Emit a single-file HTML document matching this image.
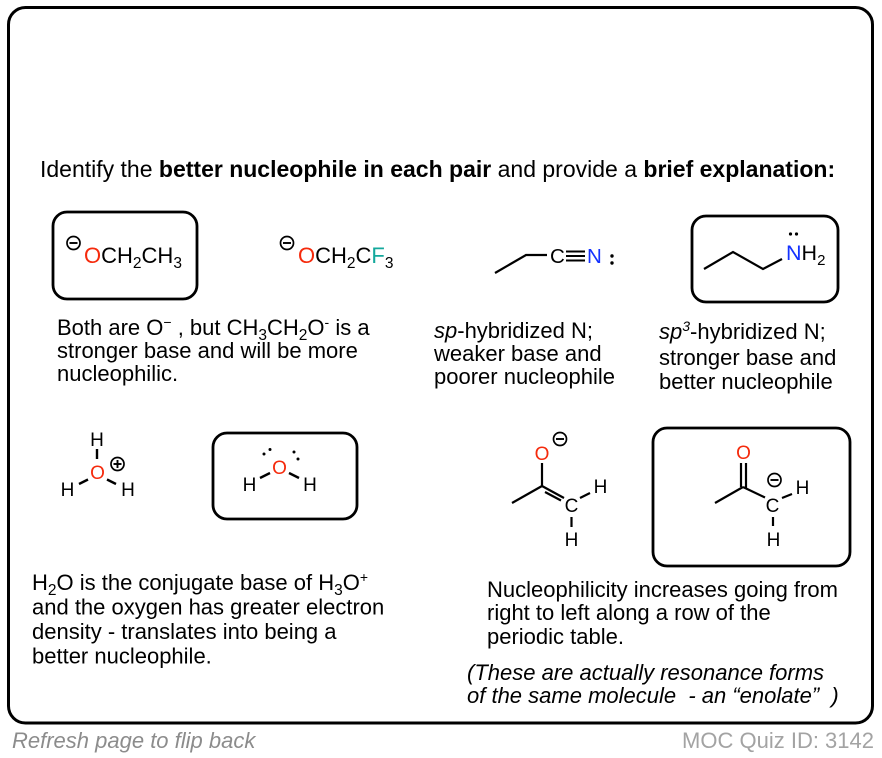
<!DOCTYPE html>
<html><head><meta charset="utf-8"><style>
html,body{margin:0;padding:0;background:#fff;width:882px;height:758px;overflow:hidden}
svg{display:block}
text{font-family:"Liberation Sans",Arial,Helvetica,sans-serif;fill:#000}
</style></head><body>
<svg width="882" height="758" viewBox="0 0 882 758" xmlns="http://www.w3.org/2000/svg">
<rect x="8.5" y="7.5" width="864" height="715.5" rx="17" fill="none" stroke="#000" stroke-width="3"/>

<text x="40" y="177" font-size="23">Identify the <tspan font-weight="bold">better nucleophile in each pair</tspan> and provide a <tspan font-weight="bold">brief explanation:</tspan></text>

<!-- boxes -->
<g fill="none" stroke="#000" stroke-width="2.8">
<rect x="53" y="212" width="144" height="87" rx="14"/>
<rect x="692" y="216" width="146" height="86" rx="14"/>
<rect x="213" y="433" width="144" height="86" rx="14"/>
<rect x="653" y="428" width="197" height="138" rx="14"/>
</g>

<!-- ethoxide -->
<circle cx="73.5" cy="243" r="6.5" fill="none" stroke="#000" stroke-width="1.7"/>
<line x1="69.5" y1="243" x2="77.5" y2="243" stroke="#000" stroke-width="1.9"/>
<text x="84" y="263" font-size="22"><tspan style="fill:#f52a0c">O</tspan>CH<tspan font-size="15.5" dy="5">2</tspan><tspan dy="-5">CH</tspan><tspan font-size="15.5" dy="5">3</tspan></text>

<!-- trifluoroethoxide -->
<circle cx="287" cy="243" r="6.5" fill="none" stroke="#000" stroke-width="1.7"/>
<line x1="283" y1="243" x2="291" y2="243" stroke="#000" stroke-width="1.9"/>
<text x="298" y="263" font-size="22"><tspan style="fill:#f52a0c">O</tspan>CH<tspan font-size="15.5" dy="5">2</tspan><tspan dy="-5">C</tspan><tspan style="fill:#14a89c">F</tspan><tspan font-size="15.5" dy="5">3</tspan></text>

<!-- nitrile -->
<polyline points="495,273 526,255 547,255" fill="none" stroke="#000" stroke-width="2.2"/>
<text x="550" y="263" font-size="20.5">C</text>
<g stroke="#000" stroke-width="2">
<line x1="566" y1="251.5" x2="585" y2="251.5"/>
<line x1="566" y1="256" x2="585" y2="256"/>
<line x1="566" y1="260.5" x2="585" y2="260.5"/>
</g>
<text x="587" y="263" font-size="20.5" style="fill:#1432ff">N</text>
<circle cx="612" cy="256" r="1.7" fill="#000"/>
<circle cx="612" cy="263" r="1.7" fill="#000"/>

<!-- propylamine -->
<polyline points="704,269 733,252 763,269 782,259" fill="none" stroke="#000" stroke-width="2.2"/>
<text x="786" y="260" font-size="21.5"><tspan style="fill:#1432ff">N</tspan>H<tspan font-size="15" dy="5">2</tspan></text>
<circle cx="790.5" cy="234" r="1.6" fill="#000"/>
<circle cx="796.5" cy="234" r="1.6" fill="#000"/>

<!-- row 1 explanations -->
<g font-size="22">
<text x="57" y="335">Both are O<tspan font-size="14" dy="-8">−</tspan><tspan dy="8"> , but CH</tspan><tspan font-size="15.5" dy="5">3</tspan><tspan dy="-5">CH</tspan><tspan font-size="15.5" dy="5">2</tspan><tspan dy="-5">O</tspan><tspan font-size="14" dy="-8">-</tspan><tspan dy="8"> is a</tspan></text>
<text x="57" y="358">stronger base and will be more</text>
<text x="57" y="381">nucleophilic.</text>

<text x="434" y="338"><tspan font-style="italic">sp</tspan>-hybridized N;</text>
<text x="434" y="361">weaker base and</text>
<text x="434" y="384">poorer nucleophile</text>

<text x="659" y="339"><tspan font-style="italic">sp</tspan><tspan font-style="italic" font-size="14" dy="-8">3</tspan><tspan dy="8">-hybridized N;</tspan></text>
<text x="659" y="365">stronger base and</text>
<text x="659" y="389">better nucleophile</text>
</g>

<!-- H3O+ -->
<g font-size="19" text-anchor="middle">
<text x="97" y="446">H</text>
<text x="97.5" y="479" style="fill:#f52a0c">O</text>
<text x="67.5" y="496">H</text>
<text x="128" y="496">H</text>
</g>
<g stroke="#000" stroke-width="2.4">
<line x1="97" y1="449" x2="97" y2="459"/>
<line x1="79" y1="484" x2="88" y2="479.5"/>
<line x1="107" y1="479.5" x2="116" y2="484"/>
</g>
<circle cx="117.5" cy="464" r="6.5" fill="none" stroke="#000" stroke-width="1.7"/>
<line x1="113.5" y1="464" x2="121.5" y2="464" stroke="#000" stroke-width="1.9"/>
<line x1="117.5" y1="460" x2="117.5" y2="468" stroke="#000" stroke-width="1.9"/>

<!-- H2O -->
<g font-size="19" text-anchor="middle">
<text x="279.5" y="474" style="fill:#f52a0c">O</text>
<text x="249.5" y="491">H</text>
<text x="310" y="491">H</text>
</g>
<g stroke="#000" stroke-width="2.4">
<line x1="260" y1="478" x2="270" y2="473"/>
<line x1="289" y1="473" x2="299" y2="478"/>
</g>
<g fill="#000">
<circle cx="264" cy="454" r="1.5"/><circle cx="270" cy="449.5" r="1.5"/>
<circle cx="294" cy="452" r="1.5"/><circle cx="298" cy="459" r="1.5"/>
</g>

<!-- enolate (O-) -->
<g font-size="19" text-anchor="middle">
<text x="542" y="460" style="fill:#f52a0c">O</text>
<text x="571.5" y="512">C</text>
<text x="600.5" y="493">H</text>
<text x="571.5" y="546">H</text>
</g>
<circle cx="560" cy="439" r="6.5" fill="none" stroke="#000" stroke-width="1.7"/>
<line x1="556" y1="439" x2="564" y2="439" stroke="#000" stroke-width="1.9"/>
<g stroke="#000" stroke-width="2.2" fill="none">
<line x1="542" y1="463" x2="542" y2="486"/>
<line x1="512" y1="503" x2="542" y2="486"/>
<line x1="542" y1="486" x2="564" y2="498"/>
<line x1="545" y1="492" x2="561" y2="500.5"/>
<line x1="580" y1="498" x2="590" y2="493"/>
<line x1="571.5" y1="517" x2="571.5" y2="527"/>
</g>

<!-- ketone carbanion -->
<g font-size="19" text-anchor="middle">
<text x="743.5" y="459" style="fill:#f52a0c">O</text>
<text x="772.5" y="512">C</text>
<text x="802.5" y="494">H</text>
<text x="773.5" y="546">H</text>
</g>
<circle cx="774.5" cy="480" r="6.5" fill="none" stroke="#000" stroke-width="1.7"/>
<line x1="770.5" y1="480" x2="778.5" y2="480" stroke="#000" stroke-width="1.9"/>
<g stroke="#000" stroke-width="2.2" fill="none">
<line x1="741" y1="463" x2="741" y2="487"/>
<line x1="746" y1="463" x2="746" y2="489"/>
<line x1="715" y1="503" x2="743" y2="487"/>
<line x1="743" y1="487" x2="765" y2="497.5"/>
<line x1="782" y1="498" x2="792" y2="494"/>
<line x1="773" y1="517" x2="773" y2="526"/>
</g>

<!-- row 2 explanations -->
<g font-size="22">
<text x="32" y="590">H<tspan font-size="15.5" dy="5">2</tspan><tspan dy="-5">O is the conjugate base of H</tspan><tspan font-size="15.5" dy="5">3</tspan><tspan dy="-5">O</tspan><tspan font-size="14" dy="-8">+</tspan></text>
<text x="32" y="614.5">and the oxygen has greater electron</text>
<text x="32" y="639">density - translates into being a</text>
<text x="32" y="663.5">better nucleophile.</text>

<text x="487" y="597">Nucleophilicity increases going from</text>
<text x="487" y="620">right to left along a row of the</text>
<text x="487" y="644">periodic table.</text>

<text x="467" y="680" font-style="italic">(These are actually resonance forms</text>
<text x="467" y="703" font-style="italic" xml:space="preserve">of the same molecule  - an “enolate”  )</text>
</g>

<!-- footer -->
<text x="12" y="748" font-size="22" font-style="italic" style="fill:#8c8c8c">Refresh page to flip back</text>
<text x="874" y="748" font-size="22" text-anchor="end" style="fill:#a3a3a3">MOC Quiz ID: 3142</text>
</svg>
</body></html>
